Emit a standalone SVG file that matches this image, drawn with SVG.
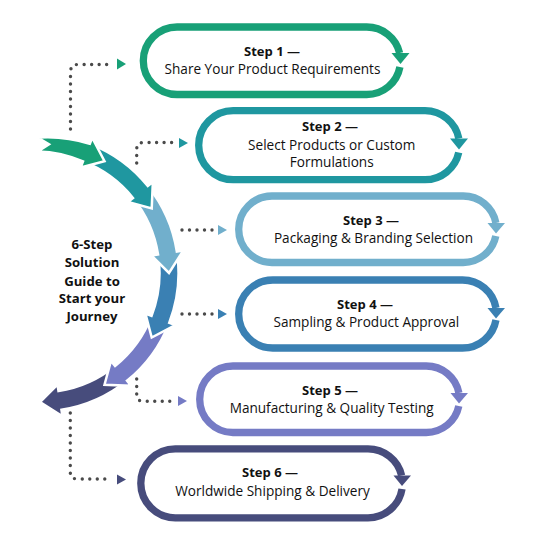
<svg xmlns="http://www.w3.org/2000/svg" xmlns:xlink="http://www.w3.org/1999/xlink" width="544" height="541" viewBox="0 0 544 541">
<defs>
<style>
.cap{fill:none;stroke-width:7.3;stroke-linecap:butt}
.ttl{font-family:"Open Sans","Liberation Sans",sans-serif;font-weight:700;font-size:13px;fill:#111;text-anchor:middle}
.bd{font-family:"Open Sans","Liberation Sans",sans-serif;font-weight:400;font-size:13.6px;fill:#111;text-anchor:middle}
.lbl{font-family:"Open Sans","Liberation Sans",sans-serif;font-weight:700;font-size:13.2px;fill:#111;text-anchor:middle}
.dots{fill:none;stroke:#4a4a4a;stroke-width:3.4;stroke-linecap:round;stroke-dasharray:0 7.5}
.seg{stroke:#fff;stroke-width:2.5;stroke-linejoin:miter}
</style>
<path id="segshape" d="M89.86,143.78 A138.5,138.5 0 0 1 147.78,186.02 L152.84,181.94 L151.71,208.5 L127.94,202.04 L132.99,197.95 A119.5,119.5 0 0 0 83.02,161.51 L96.75,157.16 Z"/>
</defs>
<rect width="544" height="541" fill="#fff"/>

<g id="cycle">
<use xlink:href="#segshape" class="seg" fill="#474c7c" transform="rotate(120 40 273)"/>
<use xlink:href="#segshape" class="seg" fill="#757bc5" transform="rotate(90 40 273)"/>
<use xlink:href="#segshape" class="seg" fill="#3a80b3" transform="rotate(60 40 273)"/>
<use xlink:href="#segshape" class="seg" fill="#71afcc" transform="rotate(30 40 273)"/>
<use xlink:href="#segshape" class="seg" fill="#1f97a0"/>
<path class="seg" fill="#18a077" d="M37.64,137.52 A137,137 0 0 1 89.86,143.78 L92.2,137.72 L104.5,161.29 L80.68,167.57 L83.02,161.51 A120,120 0 0 0 37.88,151.52 L49,144.31 Z"/>
</g>

<g id="center-label">
<text class="lbl" x="92" y="249.3">6-Step</text>
<text class="lbl" x="92" y="267.3">Solution</text>
<text class="lbl" x="92" y="285.5">Guide to</text>
<text class="lbl" x="92" y="303.3">Start your</text>
<text class="lbl" x="92" y="320.5">Journey</text>
</g>

<g id="connectors">
<path class="dots" d="M70.5,129 V72 Q70.5,64.5 78,64.5 H111"/>
<polygon points="117,58.5 126,64 117,69.5" fill="#18a077"/>
<path class="dots" d="M136.7,163 V149.5 Q136.7,142.5 143.5,142.5 H173"/>
<polygon points="179,138 188,143 179,148" fill="#1f97a0"/>
<path class="dots" d="M182,230 H213"/>
<polygon points="218,225 227,230 218,235" fill="#71afcc"/>
<path class="dots" d="M182,314 H213"/>
<polygon points="218,309 227,314 218,319" fill="#3a80b3"/>
<path class="dots" d="M136.7,379 V394.5 Q136.7,401.3 143.5,401.3 H173"/>
<polygon points="178,396 187,401 178,406" fill="#757bc5"/>
<path class="dots" d="M70.3,413 V472 Q70.3,479 77.5,479 H110"/>
<polygon points="117,474.5 126,479.5 117,484.5" fill="#474c7c"/>
</g>

<g id="step1">
<path class="cap" stroke="#18a077" d="M399.92,67 A33.75,33.75 0 0 1 366.75,94.5 H177.05 A33.75,33.75 0 0 1 177.05,27 H366.75 A33.75,33.75 0 0 1 399.6,53"/>
<polygon points="391.5,53 409.5,53 400.5,64" fill="#18a077"/>
<text class="ttl" x="272" y="55.8">Step 1 —</text>
<text class="bd" x="272.5" y="74.2">Share Your Product Requirements</text>
</g>

<g id="step2">
<path class="cap" stroke="#1f97a0" d="M458.72,152.5 A34.5,34.5 0 0 1 425,179.7 H233.2 A34.5,34.5 0 0 1 233.2,110.7 H425 A34.5,34.5 0 0 1 458.84,138.5"/>
<polygon points="450,138.5 468,138.5 459,149.5" fill="#1f97a0"/>
<text class="ttl" x="330" y="131.3">Step 2 —</text>
<text class="bd" x="331.7" y="149.5">Select Products or Custom</text>
<text class="bd" x="331.7" y="167">Formulations</text>
</g>

<g id="step3">
<path class="cap" stroke="#71afcc" d="M495.81,236 A33.25,33.25 0 0 1 463.25,262.5 H271.95 A33.25,33.25 0 0 1 271.95,196 H463.25 A33.25,33.25 0 0 1 495.91,223"/>
<polygon points="487.5,223 505,223 496,233.5" fill="#71afcc"/>
<text class="ttl" x="371" y="224.5">Step 3 —</text>
<text class="bd" x="373.5" y="243.3">Packaging &amp; Branding Selection</text>
</g>

<g id="step4">
<path class="cap" stroke="#3a80b3" d="M495.97,320 A34,34 0 0 1 462.5,348 H272.7 A34,34 0 0 1 272.7,280 H462.5 A34,34 0 0 1 495.97,308"/>
<polygon points="487.5,308 505,308 496,318.5" fill="#3a80b3"/>
<text class="ttl" x="365" y="308.8">Step 4 —</text>
<text class="bd" x="366.3" y="327">Sampling &amp; Product Approval</text>
</g>

<g id="step5">
<path class="cap" stroke="#757bc5" d="M458.81,406 A33.25,33.25 0 0 1 426.25,432.5 H232.95 A33.25,33.25 0 0 1 232.95,366 H426.25 A33.25,33.25 0 0 1 458.91,393"/>
<polygon points="450.5,393 468,393 459,403.5" fill="#757bc5"/>
<text class="ttl" x="330" y="395">Step 5 —</text>
<text class="bd" x="331.7" y="413.3">Manufacturing &amp; Quality Testing</text>
</g>

<g id="step6">
<path class="cap" stroke="#474c7c" stroke-width="7.8" d="M402.03,489 A34.5,34.5 0 0 1 368,517.8 H175.3 A34.5,34.5 0 0 1 175.3,448.8 H368 A34.5,34.5 0 0 1 401.61,475.5"/>
<polygon points="393.5,475.5 411,475.5 402,486" fill="#474c7c"/>
<text class="ttl" x="270" y="477.3">Step 6 —</text>
<text class="bd" x="272.5" y="495.7">Worldwide Shipping &amp; Delivery</text>
</g>
</svg>
